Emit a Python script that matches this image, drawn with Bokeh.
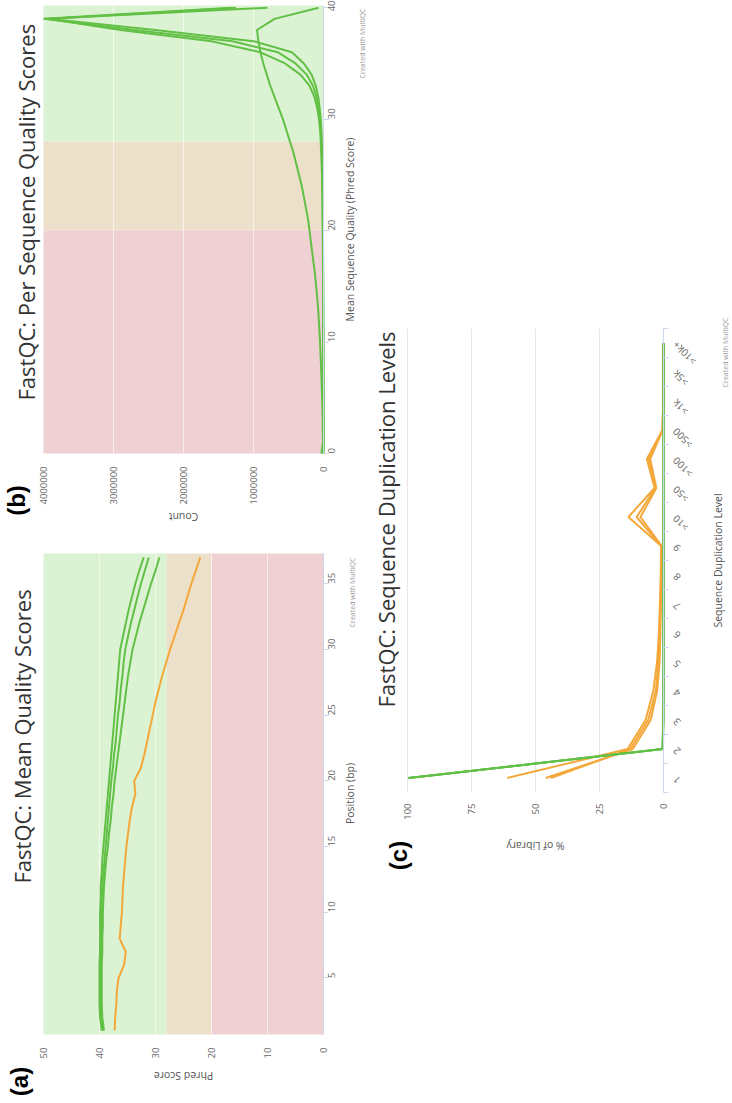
import math
from bokeh.plotting import figure
from bokeh.layouts import row, column
from bokeh.models import Range1d, FixedTicker, Label, Spacer, BasicTickFormatter, LinearAxis
from bokeh.core.properties import value
from bokeh.embed import file_html
from bokeh.resources import INLINE

FONT = "Open Sans"
GREEN = "#62c046"
ORANGE = "#f4a83a"
BAND_GREEN = "#dbf3d2"
BAND_TAN = "#ece0cb"
BAND_RED = "#efd0d3"
AXIS_BLUE = "#ccd6eb"
LABEL_GREY = "#666666"
TITLE_GREY = "#333333"

Q_FAIL, Q_WARN = 20, 28

# ---------------- (a) Mean Quality Scores ----------------
positions = list(range(1, 38))
mean_q_green_1 = [39.6, 39.9, 40.0, 40.0, 40.0, 40.0, 39.9, 39.9, 39.9, 39.9, 39.8, 39.8,
                  39.6, 39.5, 39.3, 39.1, 38.9, 38.7, 38.5, 38.3, 38.1, 37.9, 37.7, 37.5,
                  37.3, 37.1, 36.9, 36.7, 36.5, 36.3, 35.8, 35.3, 34.8, 34.2, 33.6, 32.9, 32.1]
mean_q_green_2 = [39.4, 39.7, 39.8, 39.8, 39.8, 39.8, 39.7, 39.7, 39.7, 39.6, 39.6, 39.5,
                  39.3, 39.1, 38.9, 38.7, 38.5, 38.3, 38.1, 37.9, 37.6, 37.4, 37.1, 36.9,
                  36.7, 36.4, 36.2, 35.9, 35.7, 35.4, 34.9, 34.4, 33.8, 33.2, 32.6, 31.9, 31.2]
mean_q_green_3 = [39.2, 39.5, 39.6, 39.6, 39.6, 39.6, 39.5, 39.5, 39.4, 39.4, 39.3, 39.2,
                  39.0, 38.8, 38.5, 38.3, 38.0, 37.8, 37.5, 37.3, 37.0, 36.7, 36.4, 36.1,
                  35.8, 35.5, 35.2, 34.9, 34.5, 34.1, 33.5, 32.9, 32.2, 31.5, 30.8, 30.0, 29.3]
mean_q_orange_1 = [37.3, 37.2, 37.0, 36.9, 36.6, 35.6, 35.3, 36.4, 36.2, 36.0,
                   35.9, 35.8, 35.6, 35.4, 35.2, 34.9, 34.6, 34.2, 33.6, 33.8,
                   32.6, 32.0, 31.5, 31.0, 30.5, 30.0, 29.4, 28.8, 28.1, 27.4,
                   26.6, 25.8, 25.0, 24.3, 23.6, 22.8, 22.0]
phred_ticks = [0, 10, 20, 30, 40, 50]
phred_grid = [10, 20, 30, 40]
position_ticks = [5, 10, 15, 20, 25, 30, 35]

# ---------------- (b) Per Sequence Quality Scores ----------------
mean_seq_q = list(range(0, 41))
count_green_1 = [2000, 1500, 1500, 1600, 1800, 2000, 2200, 2500, 2800, 3200,
                 3600, 4000, 4500, 5000, 5600, 6300, 7000, 7800, 8700, 9700,
                 11000, 12500, 14000, 16000, 18500, 22000, 27000, 33000, 40000, 48000,
                 65000, 90000, 130000, 200000, 330000, 550000, 900000, 1600000, 2900000, 3950000,
                 800000]
count_green_2 = [1500, 1000, 1000, 1100, 1200, 1400, 1600, 1800, 2000, 2300,
                 2600, 2900, 3300, 3700, 4200, 4700, 5300, 6000, 6800, 7600,
                 8500, 9500, 10500, 12000, 14000, 16500, 20000, 24000, 29000, 36000,
                 50000, 70000, 100000, 150000, 240000, 400000, 650000, 1300000, 2700000, 4000000,
                 1300000]
count_green_3 = [1200, 800, 800, 900, 1000, 1100, 1300, 1500, 1700, 1900,
                 2200, 2500, 2800, 3100, 3500, 4000, 4500, 5000, 5600, 6300,
                 7000, 8000, 9000, 10000, 12000, 14000, 17000, 20000, 25000, 30000,
                 40000, 55000, 75000, 110000, 170000, 280000, 450000, 1000000, 2400000, 3900000,
                 1250000]
count_green_4 = [30000, 8000, 10000, 12000, 15000, 20000, 25000, 30000, 36000, 43000,
                 50000, 58000, 67000, 77000, 90000, 105000, 120000, 140000, 160000, 180000,
                 200000, 220000, 250000, 280000, 310000, 350000, 390000, 430000, 480000, 530000,
                 580000, 640000, 700000, 760000, 810000, 860000, 900000, 930000, 950000, 700000,
                 70000]
count_ticks = [0, 1000000, 2000000, 3000000, 4000000]
count_grid = [1000000, 2000000, 3000000]
seq_q_ticks = [0, 10, 20, 30, 40]

# ---------------- (c) Sequence Duplication Levels ----------------
dup_levels = ["1", "2", "3", "4", "5", "6", "7", "8", "9",
              ">10", ">50", ">100", ">500", ">1k", ">5k", ">10k+"]
pct_orange_1 = [61.0, 14.0, 7.0, 4.0, 2.5, 1.8, 1.4, 1.1, 0.9, 13.7, 3.5, 6.5, 0.4, 0.1, 0.0, 0.0]
pct_orange_2 = [46.0, 12.0, 5.0, 2.5, 1.5, 1.2, 1.0, 0.8, 0.7, 9.0, 2.8, 5.2, 0.3, 0.05, 0.0, 0.0]
pct_orange_3 = [44.0, 13.0, 6.0, 3.0, 2.0, 1.5, 1.2, 0.9, 0.8, 10.5, 3.2, 5.8, 0.4, 0.1, 0.0, 0.0]
pct_green_1 = [99.6, 0.3, 0.05, 0.0, 0.0, 0.0, 0.0, 0.0, 0.0, 0.0, 0.0, 0.0, 0.0, 0.0, 0.0, 0.0]
pct_green_2 = [99.4, 0.5, 0.05, 0.0, 0.0, 0.0, 0.0, 0.0, 0.0, 0.0, 0.0, 0.0, 0.0, 0.0, 0.0, 0.0]
pct_green_3 = [99.7, 0.2, 0.05, 0.0, 0.0, 0.0, 0.0, 0.0, 0.0, 0.0, 0.0, 0.0, 0.0, 0.0, 0.0, 0.0]
pct_ticks = [0, 25, 50, 75, 100]
pct_grid = [25, 50, 75, 100]


def lin(v0, p0, v1, p1):
    k = (v1 - v0) / (p1 - p0)
    return lambda px: v0 + (px - p0) * k


def make_fig(box, xmap, ymap):
    left, top, right, bottom = box
    p = figure(width=right - left, height=bottom - top,
               x_range=Range1d(xmap(left), xmap(right)), y_range=Range1d(ymap(bottom), ymap(top)),
               x_axis_type=None, y_axis_type=None,
               min_border=0, min_border_left=0, min_border_right=0, min_border_top=0,
               min_border_bottom=0, output_backend="svg", toolbar_location=None)
    p.outline_line_color = None
    p.background_fill_color = "white"
    p.border_fill_color = "white"
    return p


def tick_axis(p, side, loc, bounds, ticks, standoff, line=False, minor=None):
    ticker = FixedTicker(ticks=ticks, minor_ticks=minor or [])
    ax = LinearAxis(fixed_location=loc, bounds=bounds, ticker=ticker,
                    major_label_orientation=math.pi / 2, major_label_standoff=standoff,
                    major_label_text_font=FONT, major_label_text_font_size="9.5px",
                    major_label_text_color=LABEL_GREY)
    if line:
        ax.axis_line_color = AXIS_BLUE
        ax.major_tick_line_color = AXIS_BLUE
        ax.major_tick_in = 0
        ax.major_tick_out = 5
    else:
        ax.axis_line_color = None
        ax.major_tick_line_color = None
        ax.major_tick_in = 0
        ax.major_tick_out = 0
    if minor:
        ax.minor_tick_line_color = AXIS_BLUE
        ax.minor_tick_in = 0
        ax.minor_tick_out = 5
    else:
        ax.minor_tick_line_color = None
    p.add_layout(ax, side)
    return ax


def text(p, x, y, s, size, color, angle, align="center", bold=False, font=FONT):
    p.add_layout(Label(x=x, y=y, text=s, angle=angle, text_align=align, text_baseline="middle",
                       text_font=font, text_font_size=size, text_color=color,
                       text_font_style="bold" if bold else "normal"))


UP = math.pi / 2
FLIP = math.pi

# ================= figure (b) =================
b_count_max, b_q_max = 4000000, 40.2
bx = lin(b_count_max, 43, 0, 323)
by = lin(0, 453, b_q_max, 5)
pb = make_fig((0, 0, 368, 524), bx, by)
pb.quad(left=[b_count_max] * 3, right=[0] * 3,
        bottom=[Q_WARN, Q_FAIL, 0], top=[b_q_max, Q_WARN, Q_FAIL],
        fill_color=[BAND_GREEN, BAND_TAN, BAND_RED], line_color=None, level="image")
pb.segment(x0=count_grid, y0=[0] * len(count_grid), x1=count_grid, y1=[b_q_max] * len(count_grid),
           line_color="white", line_alpha=0.6, line_width=1, level="underlay")
tick_axis(pb, "below", 0, (0, b_count_max), count_ticks, 13).formatter = BasicTickFormatter(use_scientific=False)
tick_axis(pb, "right", 0, (0, b_q_max), seq_q_ticks, 3, line=True)
for s in (count_green_4, count_green_3, count_green_2, count_green_1):
    pb.line(s, mean_seq_q, line_color=GREEN, line_width=2)
text(pb, bx(25), by(400), "FastQC: Per Sequence Quality Scores", "22px", TITLE_GREY, UP, "left")
text(pb, bx(183), by(516), "Count", "10.5px", "#555555", FLIP)
text(pb, bx(349), by(229), "Mean Sequence Quality (Phred Score)", "10.5px", "#555555", UP)
text(pb, bx(16), by(500), "(b)", "24px", "black", UP, bold=True, font="Liberation Sans")
text(pb, bx(362), by(8), "Created with MultiQC", "7px", "#999999", UP, "right")

# ================= figure (a) =================
a_q_max, a_pos_min, a_pos_max = 50, 0.7, 37.3
ax_ = lin(a_q_max, 43, 0, 323)
ay_ = lin(a_pos_min, 1034, a_pos_max, 553)
pa = make_fig((0, 524, 368, 1100), ax_, ay_)
pa.quad(left=[a_q_max, Q_WARN, Q_FAIL], right=[Q_WARN, Q_FAIL, 0],
        bottom=[a_pos_min] * 3, top=[a_pos_max] * 3,
        fill_color=[BAND_GREEN, BAND_TAN, BAND_RED], line_color=None, level="image")
pa.segment(x0=phred_grid, y0=[a_pos_min] * len(phred_grid), x1=phred_grid, y1=[a_pos_max] * len(phred_grid),
           line_color="white", line_alpha=0.6, line_width=1, level="underlay")
tick_axis(pa, "below", a_pos_min, (0, a_q_max), phred_ticks, 13)
tick_axis(pa, "right", 0, (a_pos_min, a_pos_max), position_ticks, 3, line=True)
for s in (mean_q_green_1, mean_q_green_2, mean_q_green_3):
    pa.line(s, positions, line_color=GREEN, line_width=2)
pa.line(mean_q_orange_1, positions, line_color=ORANGE, line_width=2)
text(pa, ax_(21), ay_(883), "FastQC: Mean Quality Scores", "22px", TITLE_GREY, UP, "left")
text(pa, ax_(183), ay_(1075), "Phred Score", "10.5px", "#555555", FLIP)
text(pa, ax_(349), ay_(793), "Position (bp)", "10.5px", "#555555", UP)
text(pa, ax_(19), ay_(1081), "(a)", "24px", "black", UP, bold=True, font="Liberation Sans")
text(pa, ax_(352), ay_(557), "Created with MultiQC", "7px", "#999999", UP, "right")

# ================= figure (c) =================
dup_index = list(range(len(dup_levels)))
c_lo, c_hi = -0.5, len(dup_levels) - 0.5
cx = lin(100, 407, 0, 663)
cy = lin(c_lo, 792, c_hi, 328)
pc = make_fig((368, 308, 730, 900), cx, cy)
pc.segment(x0=pct_grid, y0=[c_lo] * len(pct_grid), x1=pct_grid, y1=[c_hi] * len(pct_grid),
           line_color="#e6e6e6", line_width=1, level="underlay")
tick_axis(pc, "below", c_lo, (0, 100), pct_ticks, 11)
tick_axis(pc, "right", 0, (c_lo, c_hi), [], 3, line=True,
          minor=[i - 0.5 for i in range(len(dup_levels) + 1)])
pc.text(x=[cx(674)] * len(dup_levels), y=dup_index, text=dup_levels, angle=3 * math.pi / 4,
        text_align="right", text_baseline="middle", text_font=value(FONT),
        text_font_size=value("10px"), text_color=LABEL_GREY)
for s in (pct_orange_1, pct_orange_2, pct_orange_3):
    pc.line(s, dup_index, line_color=ORANGE, line_width=2)
for s in (pct_green_1, pct_green_2, pct_green_3):
    pc.line(s, dup_index, line_color=GREEN, line_width=2)
text(pc, cx(385), cy(707), "FastQC: Sequence Duplication Levels", "22px", TITLE_GREY, UP, "left")
text(pc, cx(535), cy(845), "% of Library", "10.5px", "#555555", FLIP)
text(pc, cx(717), cy(560), "Sequence Duplication Level", "10.5px", "#555555", UP)
text(pc, cx(398), cy(855), "(c)", "24px", "black", UP, bold=True, font="Liberation Sans")
text(pc, cx(725), cy(317), "Created with MultiQC", "7px", "#999999", UP, "right")

layout = row(column(pb, pa), column(Spacer(width=1, height=308), pc))
open("out.html", "w").write(file_html(layout, INLINE))
